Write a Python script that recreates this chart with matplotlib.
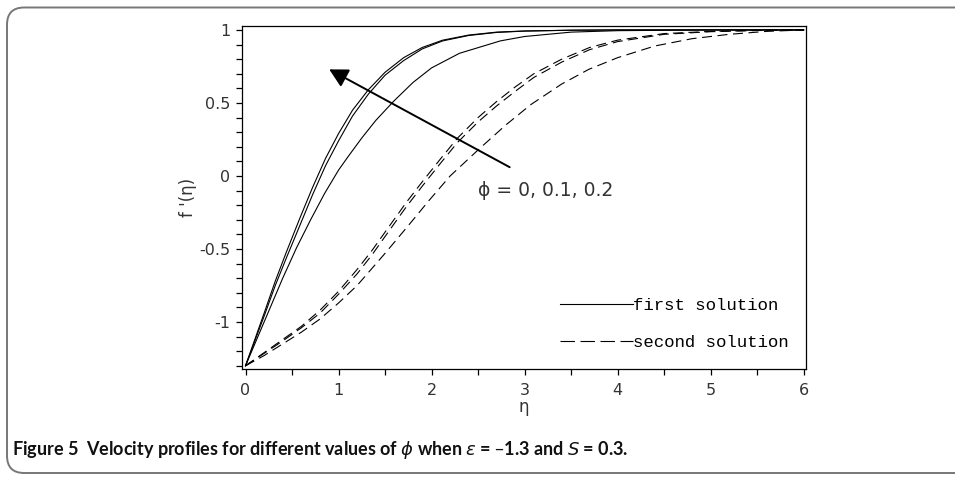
import numpy as np
import matplotlib
matplotlib.use("Agg")
import matplotlib.pyplot as plt
from matplotlib.lines import Line2D
from matplotlib.patches import FancyBboxPatch
from matplotlib.ticker import MultipleLocator

# first solution (solid), phi = 0, 0.1, 0.2
eta_s12 = [0, 0.1, 0.2, 0.32, 0.44, 0.59, 0.72, 0.86, 1.0, 1.15, 1.32, 1.5, 1.7, 1.9, 2.12, 2.4, 2.7, 3.0, 3.5, 4, 5, 6]
first_a = [-1.3, -1.12, -0.94, -0.72, -0.52, -0.28, -0.08, 0.12, 0.29, 0.45, 0.59, 0.71, 0.81, 0.88, 0.93, 0.965, 0.985, 0.993, 0.998, 1, 1, 1]
first_b = [-1.3, -1.13, -0.96, -0.75, -0.56, -0.33, -0.13, 0.07, 0.24, 0.41, 0.56, 0.69, 0.79, 0.87, 0.925, 0.962, 0.983, 0.992, 0.998, 1, 1, 1]
eta_s3 = [0, 0.1, 0.2, 0.3, 0.4, 0.55, 0.7, 0.85, 1.0, 1.1, 1.25, 1.4, 1.59, 1.8, 2.0, 2.3, 2.74, 3.0, 3.5, 4, 5, 6]
first_c = [-1.3, -1.15, -1.0, -0.85, -0.7, -0.49, -0.3, -0.12, 0.04, 0.13, 0.26, 0.38, 0.51, 0.64, 0.74, 0.84, 0.925, 0.955, 0.985, 0.995, 1, 1]

# second solution (dashed)
eta_d12 = [0, 0.2, 0.4, 0.6, 0.8, 1.0, 1.2, 1.36, 1.55, 1.73, 1.9, 2.1, 2.28, 2.5, 2.7, 2.9, 3.1, 3.4, 3.7, 4.0, 4.5, 5, 5.5, 6]
second_a = [-1.3, -1.21, -1.12, -1.03, -0.92, -0.79, -0.64, -0.51, -0.34, -0.18, -0.04, 0.12, 0.26, 0.40, 0.51, 0.61, 0.70, 0.80, 0.88, 0.93, 0.975, 0.99, 0.997, 1.0]
second_b = [-1.3, -1.215, -1.13, -1.04, -0.94, -0.81, -0.67, -0.54, -0.37, -0.21, -0.07, 0.09, 0.23, 0.37, 0.48, 0.58, 0.675, 0.78, 0.865, 0.92, 0.97, 0.988, 0.996, 1.0]
eta_d3 = [0, 0.2, 0.4, 0.6, 0.8, 1.0, 1.2, 1.5, 1.75, 1.97, 2.2, 2.52, 2.8, 3.07, 3.4, 3.69, 4.0, 4.4, 4.8, 5.2, 5.6, 6]
second_c = [-1.3, -1.23, -1.15, -1.07, -0.98, -0.87, -0.75, -0.53, -0.34, -0.17, 0.0, 0.19, 0.35, 0.49, 0.63, 0.73, 0.81, 0.89, 0.94, 0.97, 0.99, 1.0]

x_ticks = [0, 1, 2, 3, 4, 5, 6]
y_ticks = [-1, -0.5, 0, 0.5, 1]
y_ticklabels = ["-1", "-0.5", "0", "0.5", "1"]

fig = plt.figure(figsize=(9.55, 4.8), dpi=100)
ax = fig.add_axes([241.7/955, 1-369/480, (805.5-241.7)/955, (369-25.7)/480])

lw = 0.8
dash = (9, 5)
for e, v in [(eta_s12, first_a), (eta_s12, first_b), (eta_s3, first_c)]:
    ax.plot(e, v, color="black", lw=lw)
for e, v in [(eta_d12, second_a), (eta_d12, second_b), (eta_d3, second_c)]:
    ax.plot(e, v, color="black", lw=lw, dashes=dash)

ax.set_xlim(-0.041, 6.02)
ax.set_ylim(-1.322, 1.029)
ax.set_xticks(x_ticks)
ax.set_yticks(y_ticks)
ax.set_yticklabels(y_ticklabels)
ax.xaxis.set_minor_locator(MultipleLocator(0.5))
ax.yaxis.set_minor_locator(MultipleLocator(0.1))
ax.tick_params(which="both", direction="out", length=4, width=0.9, colors="black",
               labelsize=11.5, labelcolor="#333333")
ax.tick_params(axis="y", pad=4)
ax.tick_params(axis="x", pad=6)
for sp in ax.spines.values():
    sp.set_linewidth(0.9)

ax.set_xlabel("η", fontsize=12, labelpad=0, color="#333333")
ax.set_ylabel("f '(η)", fontsize=12, labelpad=2, color="#333333")

# arrow and phi annotation
ax.annotate("", xy=(0.90, 0.73), xytext=(2.84, 0.06),
            arrowprops=dict(arrowstyle="-|>,head_length=0.75,head_width=0.4",
                            lw=1.4, color="black", shrinkA=0, shrinkB=0,
                            mutation_scale=15))
ax.text(2.5, -0.1, "ϕ = 0, 0.1, 0.2", fontsize=13.5, color="#333333", va="center", ha="left")

handles = [Line2D([], [], color="black", lw=lw),
           Line2D([], [], color="black", lw=lw, dashes=(13, 5))]
leg = ax.legend(handles, ["first solution", "second solution"], loc="upper left",
                bbox_to_anchor=(560/955, 1-298/480), bbox_transform=fig.transFigure,
                frameon=False, handlelength=4.2, handletextpad=0.0, borderpad=0,
                borderaxespad=0, labelspacing=1.25,
                prop={"family": "Liberation Mono", "size": 12.5})

# rounded frame and caption
frame = FancyBboxPatch((7/955, 7/480), 2, 1-14.5/480, transform=fig.transFigure,
                       boxstyle="round,pad=0,rounding_size=0.018", fill=False,
                       edgecolor="#777777", lw=1.4, mutation_aspect=2.0)
fig.patches.append(frame)

fig.text(12/955, 1-450/480,
         r"Figure 5  Velocity profiles for different values of $\phi$ when $\varepsilon$ = –1.3 and $S$ = 0.3.",
         fontsize=13, fontweight="bold", family=["Lato", "DejaVu Sans"], va="center", ha="left",
         color="#111111")

fig.savefig("out.png", dpi=100)
